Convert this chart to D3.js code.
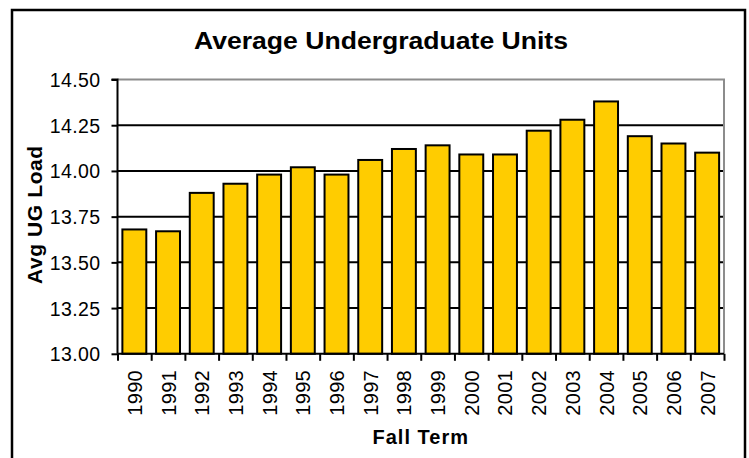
<!DOCTYPE html>
<html>
<head>
<meta charset="utf-8">
<script src="https://cdn.jsdelivr.net/npm/d3@7"></script>
<style>
  body { margin: 0; background: #fff; }
  svg text { font-family: "Liberation Sans", Arial, sans-serif; fill: #000; }
</style>
</head>
<body>
<script>
// chart data
const years = ["1990", "1991", "1992", "1993", "1994", "1995", "1996", "1997", "1998",
               "1999", "2000", "2001", "2002", "2003", "2004", "2005", "2006", "2007"];
const avgLoad = [13.68, 13.67, 13.88, 13.93, 13.98, 14.02, 13.98, 14.06, 14.12,
                 14.14, 14.09, 14.09, 14.22, 14.28, 14.38, 14.19, 14.15, 14.10];
const yTicks = [13.00, 13.25, 13.50, 13.75, 14.00, 14.25, 14.50];

const w = 749;
const h = 458;
const plot = { left: 117.5, right: 724, top: 79.5, bottom: 353.8 };

const svg = d3.select("body")
              .append("svg")
              .attr("width", w)
              .attr("height", h);

// outer chart frame
svg.append("rect")
   .attr("x", 12)
   .attr("y", 10)
   .attr("width", 733)
   .attr("height", 460)
   .attr("fill", "none")
   .attr("stroke", "#000")
   .attr("stroke-width", 2.5);

// scales
const xScale = d3.scaleBand()
                 .domain(years)
                 .range([plot.left, plot.right]);
const edgeScale = d3.scaleLinear()
                    .domain([0, years.length])
                    .range([plot.left, plot.right]);
const yScale = d3.scaleLinear()
                 .domain([13, 14.5])
                 .range([plot.bottom, plot.top]);

// gridlines
svg.append("g")
   .selectAll("line")
   .data(yTicks.filter(d => d > 13 && d < 14.5))
   .enter()
   .append("line")
   .attr("x1", plot.left)
   .attr("x2", plot.right)
   .attr("y1", d => yScale(d))
   .attr("y2", d => yScale(d))
   .attr("stroke", "#000")
   .attr("stroke-width", 2);

// plot area border (top and right are grey)
svg.append("path")
   .attr("d", `M${plot.left},${yScale(14.5)}H${plot.right}V${plot.bottom}`)
   .attr("fill", "none")
   .attr("stroke", "#8c8c8c")
   .attr("stroke-width", 2);

// bars
const barWidth = xScale.bandwidth() * 0.71;
svg.append("g")
   .selectAll("rect")
   .data(years)
   .enter()
   .append("rect")
   .attr("x", (d) => xScale(d) + (xScale.bandwidth() - barWidth) / 2)
   .attr("y", (d, i) => yScale(avgLoad[i]))
   .attr("width", barWidth)
   .attr("height", (d, i) => yScale(13) - yScale(avgLoad[i]))
   .attr("fill", "#FFCC00")
   .attr("stroke", "#000")
   .attr("stroke-width", 2);

// y axis
const yAxis = d3.axisLeft(yScale)
                .tickValues(yTicks)
                .tickFormat(d3.format(".2f"))
                .tickSize(6)
                .tickPadding(11);
const yg = svg.append("g")
   .attr("transform", `translate(${plot.left}, 0)`)
   .call(yAxis);
yg.select(".domain").attr("stroke-width", 2).attr("d", `M-6,${plot.top}H0V${plot.bottom}`);
yg.selectAll(".tick line").attr("stroke-width", 2);
yg.selectAll("text").style("font-size", "19.5px").attr("dy", "0.36em")
  .style("letter-spacing", "0.4px");

// x axis: ticks at category edges, labels at centres
const xEdgeAxis = d3.axisBottom(edgeScale)
                    .tickValues(d3.range(years.length + 1))
                    .tickFormat("")
                    .tickSize(7);
const xg = svg.append("g")
   .attr("transform", `translate(0, ${plot.bottom})`)
   .call(xEdgeAxis);
xg.select(".domain").attr("stroke-width", 2).attr("d", `M${plot.left},0H${plot.right}`);
xg.selectAll(".tick line").attr("stroke-width", 2);

svg.append("g")
   .selectAll("text")
   .data(years)
   .enter()
   .append("text")
   .attr("transform", d => `translate(${xScale(d) + xScale.bandwidth() / 2 + 7.5}, 370) rotate(-90)`)
   .attr("text-anchor", "end")
   .style("font-size", "20px")
   .style("letter-spacing", "0.3px")
   .text(d => d);

// titles
svg.append("text")
   .attr("x", 381)
   .attr("y", 49)
   .attr("text-anchor", "middle")
   .attr("textLength", 374)
   .attr("lengthAdjust", "spacingAndGlyphs")
   .style("font-weight", "bold")
   .style("font-size", "23.5px")
   .text("Average Undergraduate Units");

svg.append("text")
   .attr("x", (plot.left + plot.right) / 2)
   .attr("y", 444)
   .attr("text-anchor", "middle")
   .style("font-weight", "bold")
   .style("font-size", "20px")
   .style("letter-spacing", "1px")
   .text("Fall Term");

svg.append("text")
   .attr("transform", `translate(41.5, ${(plot.top + plot.bottom) / 2 - 2}) rotate(-90)`)
   .attr("text-anchor", "middle")
   .style("font-weight", "bold")
   .style("font-size", "21px")
   .style("letter-spacing", "0.6px")
   .text("Avg UG Load");
</script>
</body>
</html>
